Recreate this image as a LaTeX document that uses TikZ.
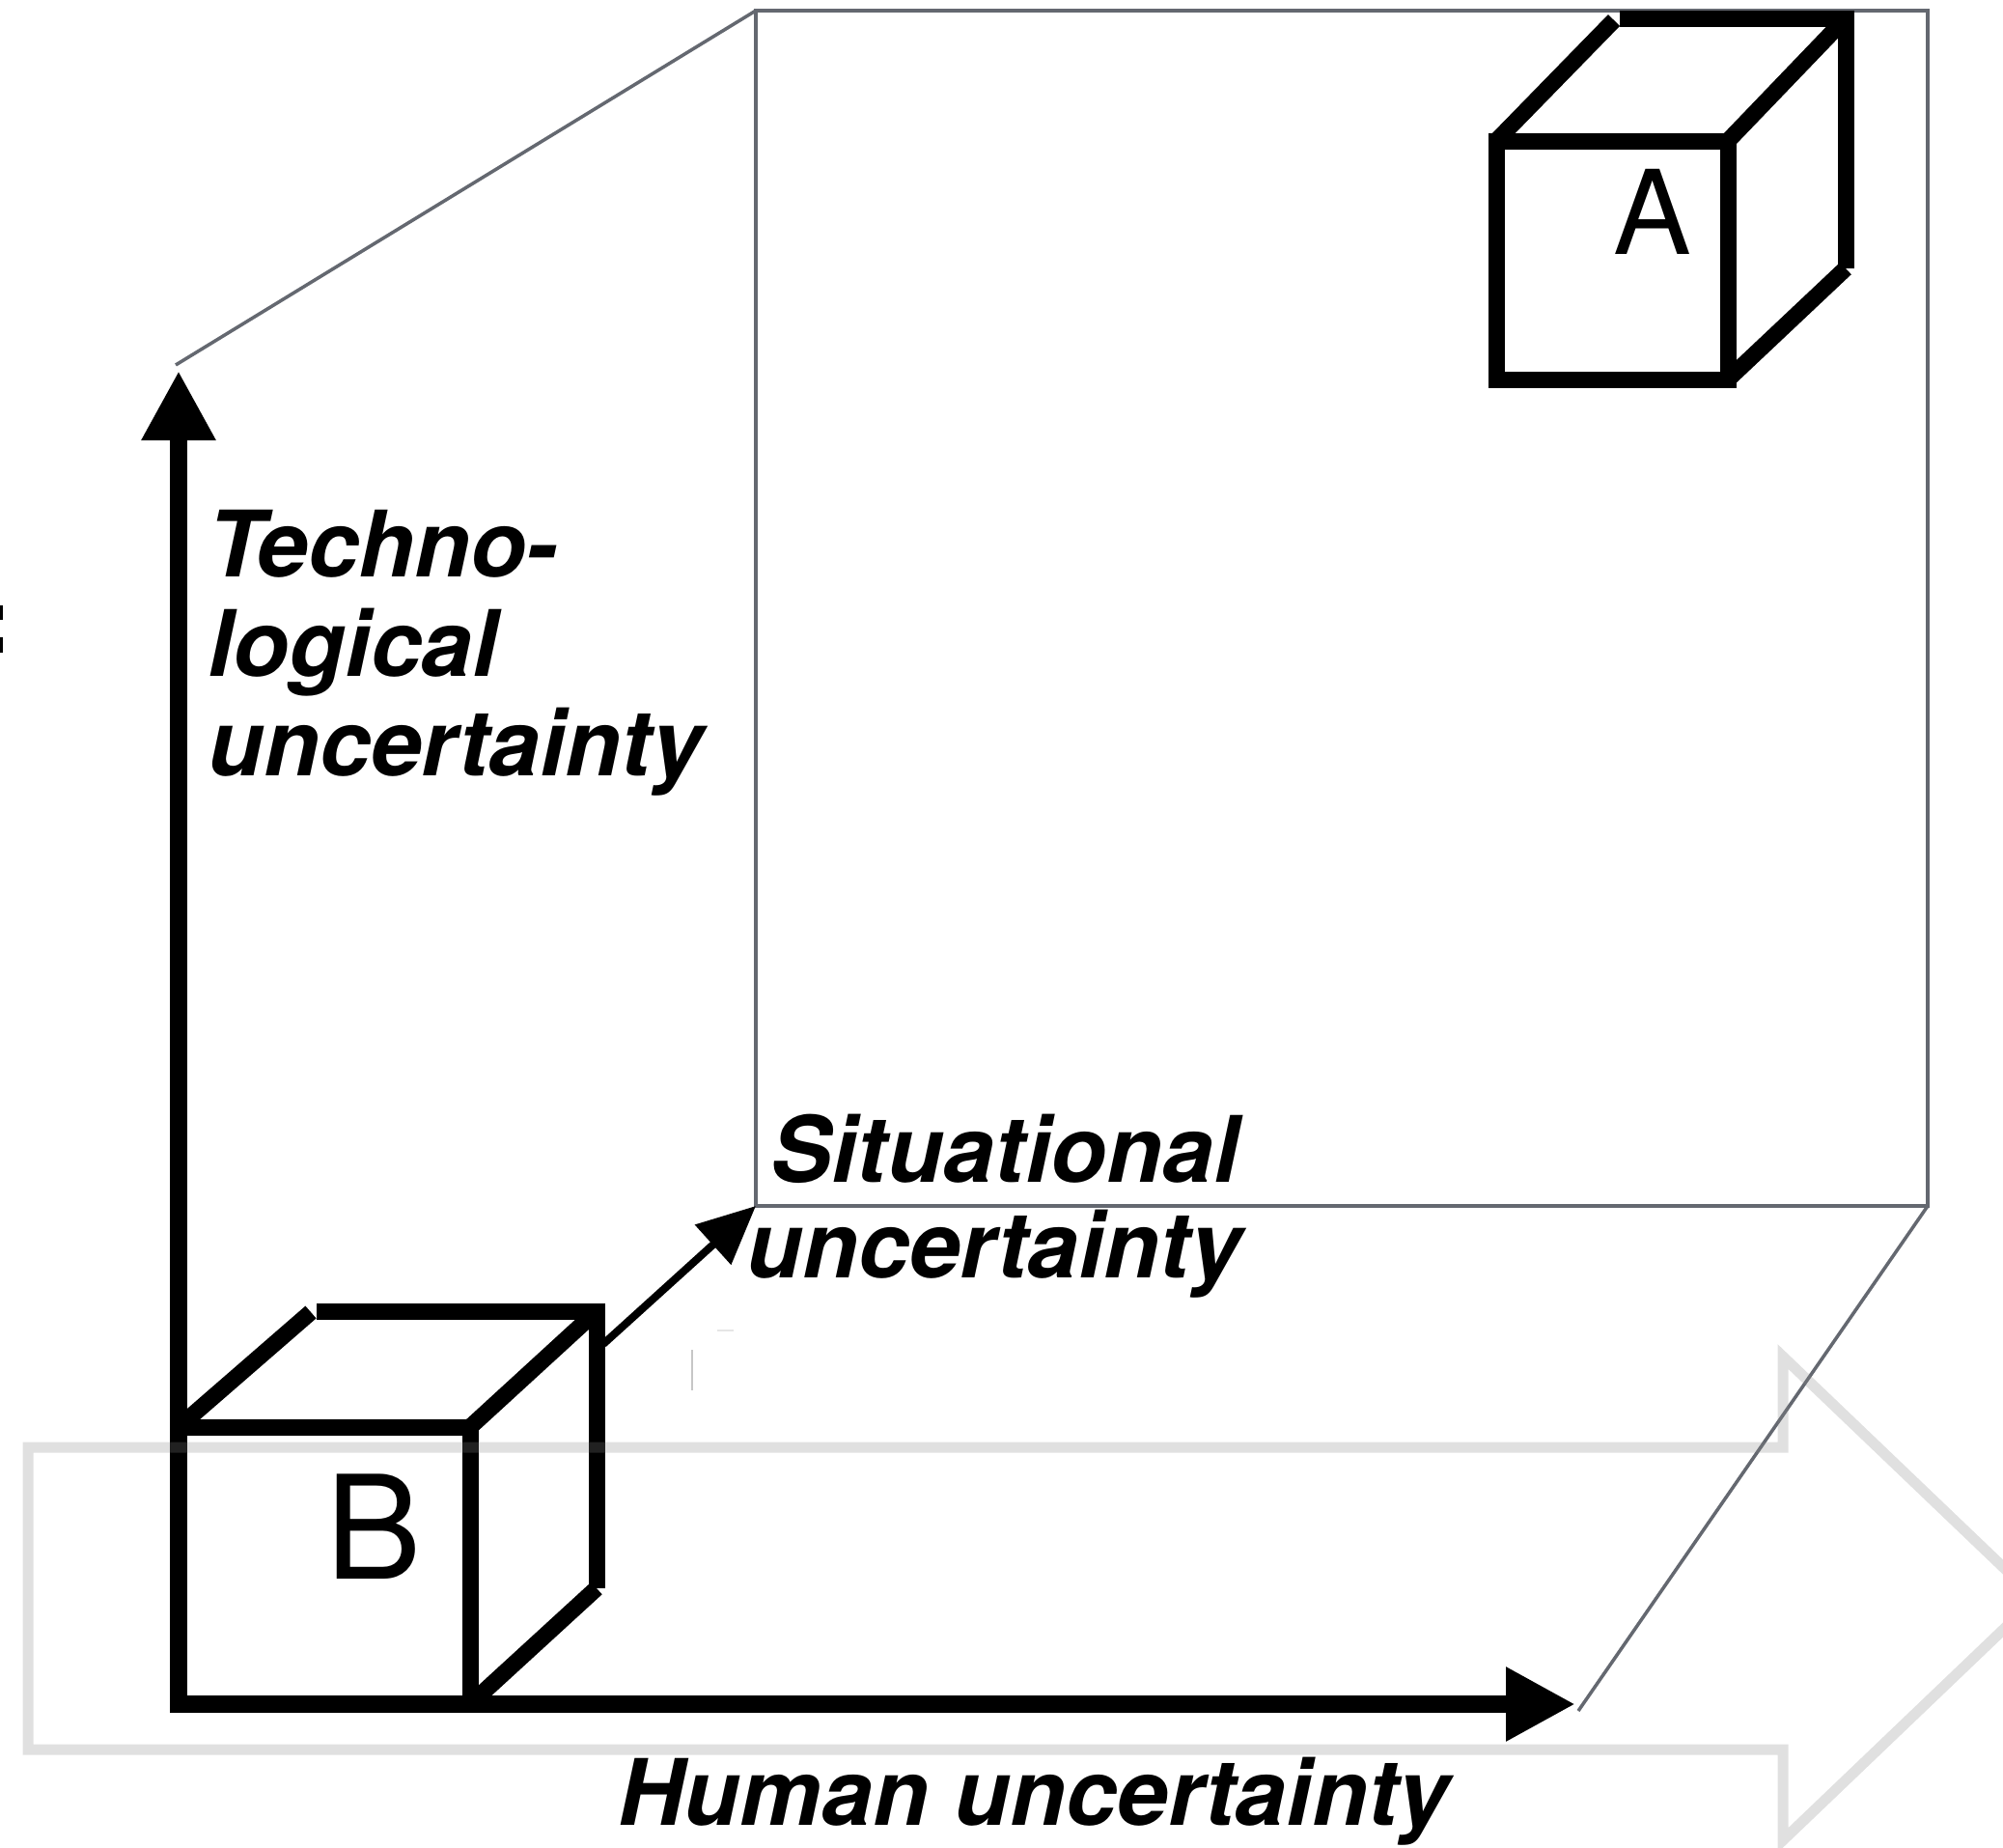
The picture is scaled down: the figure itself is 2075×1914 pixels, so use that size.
\documentclass[tikz,border=0pt]{standalone}
\usepackage{fontspec}
\setmainfont{TeX Gyre Heros}
\usetikzlibrary{arrows.meta}
\definecolor{thingray}{RGB}{100,104,112}
\definecolor{bandgray}{RGB}{132,132,132}
\begin{document}
\begin{tikzpicture}[x=1pt,y=-1pt,
  thinline/.style={draw=thingray,line width=3.5pt,line join=miter},
  axisline/.style={line width=18pt,line join=miter,
     {Triangle[length=72pt,width=72pt]}-{Triangle[length=72pt,width=72pt]}},
  sitarrow/.style={line width=8pt,-{Triangle[length=60pt,width=54pt]}},
  cubeline/.style={line width=17pt,line join=miter},
  band/.style={draw=bandgray,draw opacity=0.25,line width=11pt,line join=miter},
  lbl/.style={font=\fontsize{95}{103}\selectfont\bfseries\itshape,inner sep=0pt,anchor=base west},
  cubelbl/.style={inner sep=0pt,anchor=base}
]
\useasboundingbox (0,0) rectangle (2075,1914);
\clip (0,0) rectangle (2075,1914);

% coordinates
\coordinate (R1) at (783,11);
\coordinate (R2) at (1997,11);
\coordinate (R3) at (1997,1249);
\coordinate (R4) at (783,1249);
\coordinate (TL) at (182,378);
\coordinate (BR) at (1635,1772);
\coordinate (vtip) at (185,384);
\coordinate (orig) at (185,1765);
\coordinate (htip) at (1632,1765);

% thin grey frame
\draw[thinline] (R1) -- (R2) -- (R3) -- (R4) -- cycle;
\draw[thinline] (TL) -- (R1);
\draw[thinline] (R3) -- (BR);

% axes
\draw[axisline] (vtip) -- (orig) -- (htip);

% cube B
\coordinate (B1) at (185,1478);
\coordinate (B2) at (487,1478);
\coordinate (B3) at (487,1765);
\coordinate (B4) at (185,1765);
\coordinate (B5) at (322,1359);
\coordinate (B6) at (328,1358);
\coordinate (B7) at (618,1358);
\coordinate (B8) at (618,1645);
\draw[cubeline] (B1) -- (B2) -- (B3) -- (B4) -- cycle;
\draw[cubeline] (B1) -- (B5);
\draw[cubeline] (B6) -- (B7) -- (B8);
\draw[cubeline] (B2) -- (B7);
\draw[cubeline] (B3) -- (B8);
\node[cubelbl,font=\fontsize{149}{149}\selectfont] (labB) at (387,1635) {B};

% situational arrow
\coordinate (S0) at (625,1392);
\draw[sitarrow] (S0) -- (R4);

% cube A
\coordinate (A1) at (1550,146);
\coordinate (A2) at (1790,146);
\coordinate (A3) at (1790,393);
\coordinate (A4) at (1550,393);
\coordinate (A5) at (1672,21);
\coordinate (A6) at (1678,19);
\coordinate (A7) at (1912,19);
\coordinate (A8) at (1912,278);
\draw[cubeline] (A1) -- (A2) -- (A3) -- (A4) -- cycle;
\draw[cubeline] (A1) -- (A5);
\draw[cubeline] (A6) -- (A7) -- (A8);
\draw[cubeline] (A2) -- (A7);
\draw[cubeline] (A3) -- (A8);
\node[cubelbl,font=\fontsize{121}{121}\selectfont] (labA) at (1712,263) {A};

% big light grey arrow
\draw[band] (29,1499) -- (1847,1499) -- (1847,1405) -- (2109,1655.5)
  -- (1847,1906) -- (1847,1812) -- (29,1812) -- cycle;

% labels
\node[lbl] (tech1) at (215,597) {Techno-};
\node[lbl] (tech2) at (215,700) {logical};
\node[lbl] (tech3) at (215,803) {uncertainty};
\node[lbl] (sit1) at (798,1224) {Situational};
\node[lbl] (sit2) at (773,1323) {uncertainty};
\node[lbl] (hum) at (640,1890) {Human uncertainty};

% small stray marks
\fill[black] (0,627) rectangle (3,642);
\fill[black] (0,660) rectangle (3,676);
\draw[gray!45,line width=2pt] (717,1398) -- (717,1440);
\draw[gray!20,line width=1.5pt] (743,1378) -- (760,1378);
\end{tikzpicture}
\end{document}
